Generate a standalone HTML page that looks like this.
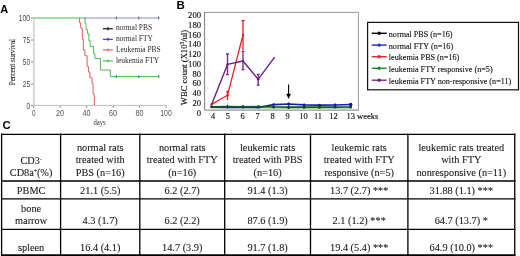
<!DOCTYPE html>
<html><head><meta charset="utf-8">
<style>
html,body{margin:0;padding:0;background:#fff;}
body{width:520px;height:256px;overflow:hidden;}
svg{display:block;will-change:transform;}
.sf{font-family:"Liberation Serif",serif;}
.ss{font-family:"Liberation Sans",sans-serif;}
</style></head><body>
<svg width="520" height="256" viewBox="0 0 520 256">
<!-- Panel labels -->
<g class="ss" font-weight="bold" font-size="11" fill="#000">
<text x="0.3" y="12.8">A</text>
<text x="176.4" y="8.5" font-size="11.5">B</text>
<text x="2.4" y="129.2" font-size="11.3">C</text>
</g>

<!-- ============ Chart A ============ -->
<g fill="none" stroke="#bdbdbd" stroke-width="1">
<line x1="33.9" y1="17.5" x2="33.9" y2="105.6" stroke-width="1.6" stroke="#d0d0d0"/>
<line x1="33.6" y1="105.4" x2="166.5" y2="105.4"/>
<!-- ticks -->
<g stroke="#8a8a8a">
<line x1="31" y1="18" x2="33.2" y2="18"/>
<line x1="31" y1="40" x2="33.2" y2="40"/>
<line x1="31" y1="62" x2="33.2" y2="62"/>
<line x1="31" y1="84" x2="33.2" y2="84"/>
<line x1="31" y1="105.4" x2="33.2" y2="105.4"/>
<line x1="33.7" y1="105.9" x2="33.7" y2="107.9"/>
<line x1="60.2" y1="105.9" x2="60.2" y2="107.9"/>
<line x1="86.7" y1="105.9" x2="86.7" y2="107.9"/>
<line x1="113.2" y1="105.9" x2="113.2" y2="107.9"/>
<line x1="139.7" y1="105.9" x2="139.7" y2="107.9"/>
<line x1="166.2" y1="105.9" x2="166.2" y2="107.9"/>
</g>
</g>
<g class="ss" font-size="8.2" fill="#444" text-anchor="end">
<text x="30" y="20.8" textLength="11.2" lengthAdjust="spacingAndGlyphs">100</text>
<text x="30" y="42.8" textLength="7.2" lengthAdjust="spacingAndGlyphs">75</text>
<text x="30" y="64.8" textLength="7.2" lengthAdjust="spacingAndGlyphs">50</text>
<text x="30" y="86.8" textLength="7.2" lengthAdjust="spacingAndGlyphs">25</text>
<text x="30" y="108.5" textLength="3.5" lengthAdjust="spacingAndGlyphs">0</text>
</g>
<g class="ss" font-size="8.2" fill="#555" text-anchor="middle">
<text x="33.7" y="115.9" textLength="3.6" lengthAdjust="spacingAndGlyphs">0</text>
<text x="60" y="115.9" textLength="8" lengthAdjust="spacingAndGlyphs">20</text>
<text x="86.5" y="115.9" textLength="8" lengthAdjust="spacingAndGlyphs">40</text>
<text x="113" y="115.9" textLength="8" lengthAdjust="spacingAndGlyphs">60</text>
<text x="139.5" y="115.9" textLength="8" lengthAdjust="spacingAndGlyphs">80</text>
<text x="166" y="115.9" textLength="11.4" lengthAdjust="spacingAndGlyphs">100</text>
<text class="sf" x="99.5" y="125.4" font-size="7.8" textLength="12.2" lengthAdjust="spacingAndGlyphs" fill="#333">days</text>
</g>
<text class="sf" transform="translate(15.1,85.3) rotate(-90)" font-size="7.8" textLength="46.4" lengthAdjust="spacingAndGlyphs" fill="#333" stroke="#333" stroke-width="0.15">Percent survival</text>
<!-- curves -->
<g fill="none" stroke-width="1" stroke-linejoin="miter">
<path stroke="#8888cc" d="M84 18H158.8"/>
<path stroke="#e05a5a" d="M78.8 18H79.6V22.9H80.7V28H82.3V39.3H83.3V50H84.9V55.7H87.1V66.3H88.4V72H89.8V77.6H91.2V78H92V83.5H93V94.1H94.25V105.4"/>
<path stroke="#4cbc4c" d="M33.7 18H85.1V23.4H86V29.5H87.6V33.7H88.9V40.7H90.1V46.4H93.6V53.6H94.9V58.4H100.4V70H110.3V76.6H158.8"/>
</g>
<g stroke-width="1">
<path stroke="#4a4ab0" d="M116.3 16.6V19.4M138.8 16.6V19.4M158.7 16.6V19.4"/>
<path stroke="#2a8a2a" d="M116.3 75.2V78M138.8 75.2V78M158.7 75.2V78"/>
</g>
<!-- legend A -->
<g stroke-width="1.1">
<line x1="102.9" y1="28.8" x2="112.9" y2="28.8" stroke="#000"/>
<line x1="107.9" y1="27.3" x2="107.9" y2="30.3" stroke="#000"/>
<line x1="102.9" y1="39.3" x2="112.9" y2="39.3" stroke="#2a2acc"/>
<line x1="107.9" y1="37.8" x2="107.9" y2="40.8" stroke="#2a2acc"/>
<line x1="102.9" y1="49.9" x2="112.9" y2="49.9" stroke="#e05a5a"/>
<line x1="107.9" y1="48.4" x2="107.9" y2="51.4" stroke="#e05a5a"/>
<line x1="102.9" y1="60.9" x2="112.9" y2="60.9" stroke="#4cbc4c"/>
<line x1="107.9" y1="59.4" x2="107.9" y2="62.4" stroke="#4cbc4c"/>
</g>
<g class="sf" font-size="7.45" fill="#2a2a2a">
<text x="115.9" y="30.4">normal PBS</text>
<text x="115.9" y="40.9">normal FTY</text>
<text x="115.9" y="52.2">Leukemia PBS</text>
<text x="115.9" y="62.6">leukemia FTY</text>
</g>

<!-- ============ Chart B ============ -->
<g fill="none" stroke-width="1">
<path stroke="#999" d="M204.6 12.4H358.4V110.1"/>
<path stroke="#7a7a7a" d="M204.6 12V110.1H358.9"/>
</g>
<g class="sf" font-size="8.6" fill="#111" stroke="#111" stroke-width="0.15" text-anchor="end">
<text x="201" y="18.1">200</text>
<text x="201" y="27.9">180</text>
<text x="201" y="37.6">160</text>
<text x="201" y="47.4">140</text>
<text x="201" y="57.1">120</text>
<text x="201" y="66.9">100</text>
<text x="201" y="76.6">80</text>
<text x="201" y="86.4">60</text>
<text x="201" y="96.1">40</text>
<text x="201" y="105.9">20</text>
<text x="201" y="115.9">0</text>
</g>
<g class="sf" font-size="8.4" fill="#111" stroke="#111" stroke-width="0.15" text-anchor="middle">
<text x="213.1" y="119.1">4</text>
<text x="227.9" y="119.1">5</text>
<text x="242.7" y="119.1">6</text>
<text x="257.7" y="119.1">7</text>
<text x="272.7" y="119.1">8</text>
<text x="287.5" y="119.1">9</text>
<text x="303.5" y="119.1">10</text>
<text x="318" y="119.1">11</text>
<text x="333.5" y="119.1">12</text>
</g>
<text class="sf" font-size="8.4" fill="#111" stroke="#111" stroke-width="0.15" x="346.5" y="119.1" textLength="31.8" lengthAdjust="spacingAndGlyphs">13 weeks</text>
<text class="sf" font-size="8.6" fill="#111" stroke="#111" stroke-width="0.15" transform="translate(187.0,105.2) rotate(-90)">WBC count (X10<tspan font-size="5.5" dy="-3">3</tspan><tspan dy="3">/ul)</tspan></text>

<!-- data lines -->
<g fill="none" stroke-linejoin="round">
<path stroke="#9fd29f" stroke-width="1" d="M211.6 107.8L227.5 107.8L243 107.8L258.2 108.0L273.6 108.3L288.7 108.4L304.2 108.4L319.5 108.4L335 108.3L350.7 108.3"/>
<path stroke="#1522b0" stroke-width="1.6" d="M211.6 107.2L227.5 107.4L243 107.3L258.2 107.6L273.6 104.6L288.7 104.0L304.2 104.9L319.5 105.1L335 105.0L350.7 104.5"/>
<path stroke="#0e5a2c" stroke-width="1.7" d="M211.6 106.8L227.5 106.7L243 106.8L258.2 106.7L273.6 107.0L288.7 107.2L304.2 107.2L319.5 107.2L335 107.1L350.7 107.0"/>
<path stroke="#e8222a" stroke-width="1.3" d="M211.6 104.4L227.5 95.3L243 35"/>
<path stroke="#702084" stroke-width="1.4" d="M211.6 104.4L227.5 64.4L243 61L258.2 79.3L274.6 57.1"/>
</g>
<!-- error bars -->
<g fill="none" stroke-width="1">
<path stroke="#e0202a" stroke-width="1.3" d="M243 20.6V50.3M241.4 20.6H244.6M227.5 91.5V100M226.1 91.5H228.9"/>
<path stroke="#702084" stroke-width="1.3" d="M227.5 54V74.7M226.1 54H228.9M226.1 74.7H228.9M243 51.3V69.6M241.6 51.3H244.4M241.6 69.6H244.4M258.2 74.4V85.1M256.8 74.4H259.6M256.8 85.1H259.6"/>
<path stroke="#1522b0" d="M288.7 102.8V109"/>
<path stroke="#0e5a3c" d="M227.5 104.6V108.4M243 105V108.4"/>
</g>
<g>
<circle cx="211.6" cy="106.8" r="1.5" fill="#0a4a22"/>
<circle cx="227.5" cy="106.7" r="1.5" fill="#0a4a22"/>
<circle cx="243" cy="106.8" r="1.5" fill="#0a4a22"/>
<circle cx="258.2" cy="106.7" r="1.5" fill="#0a4a22"/>
<circle cx="273.6" cy="107.0" r="1.5" fill="#0a4a22"/>
<circle cx="288.7" cy="107.2" r="1.5" fill="#0a4a22"/>
<circle cx="304.2" cy="107.2" r="1.5" fill="#0a4a22"/>
<circle cx="319.5" cy="107.2" r="1.5" fill="#0a4a22"/>
<circle cx="335" cy="107.1" r="1.5" fill="#0a4a22"/>
<circle cx="350.7" cy="107.0" r="1.5" fill="#0a4a22"/>
<circle cx="273.6" cy="104.6" r="1.4" fill="#1020a8"/>
<circle cx="288.7" cy="104.0" r="1.4" fill="#1020a8"/>
<circle cx="304.2" cy="104.9" r="1.4" fill="#1020a8"/>
<circle cx="319.5" cy="105.1" r="1.4" fill="#1020a8"/>
<circle cx="335" cy="105.0" r="1.4" fill="#1020a8"/>
<circle cx="350.7" cy="104.5" r="1.4" fill="#1020a8"/>
<circle cx="350.7" cy="104.5" r="1.7" fill="#101c98"/>
<circle cx="243" cy="35" r="1.2" fill="#e8222a"/>
<circle cx="227.5" cy="95.3" r="1.2" fill="#e8222a"/>
<circle cx="211.6" cy="104.4" r="1.2" fill="#c0202a"/>
<circle cx="227.5" cy="64.4" r="1.2" fill="#702084"/>
<circle cx="243" cy="61" r="1.2" fill="#702084"/>
<circle cx="258.2" cy="79.3" r="1.2" fill="#702084"/>
</g>
<!-- arrow -->
<g>
<line x1="288.6" y1="84.6" x2="288.6" y2="95" stroke="#000" stroke-width="1.1"/>
<path d="M286.3 93.8L290.9 93.8L288.6 99Z" fill="#000"/>
</g>

<!-- legend B -->
<rect x="367.6" y="22.4" width="150.9" height="67.4" fill="none" stroke="#111" stroke-width="1.2"/>
<g stroke-width="1.4">
<line x1="371.7" y1="33.3" x2="386.7" y2="33.3" stroke="#000"/>
<circle cx="379.2" cy="33.3" r="1.7" fill="#000"/>
<line x1="371.7" y1="45.1" x2="386.7" y2="45.1" stroke="#1f2fd6"/>
<circle cx="379.2" cy="45.1" r="1.7" fill="#1f2fd6"/>
<line x1="371.7" y1="56.7" x2="386.7" y2="56.7" stroke="#e8222a"/>
<circle cx="379.2" cy="56.7" r="1.7" fill="#e8222a"/>
<line x1="371.7" y1="68.3" x2="386.7" y2="68.3" stroke="#1a8a2a"/>
<circle cx="379.2" cy="68.3" r="1.7" fill="#1a8a2a"/>
<line x1="371.7" y1="80.2" x2="386.7" y2="80.2" stroke="#7a2a86"/>
<circle cx="379.2" cy="80.2" r="1.7" fill="#702084"/>
</g>
<g class="sf" font-size="8.15" fill="#111" stroke="#111" stroke-width="0.12">
<text x="388.8" y="36.9">normal PBS (n=16)</text>
<text x="388.8" y="48.6">normal FTY (n=16)</text>
<text x="388.8" y="60.3">leukemia PBS (n=16)</text>
<text x="388.8" y="71.9">leukemia FTY responsive (n=5)</text>
<text x="388.8" y="83.8">leukemia FTY non-responsive (n=11)</text>
</g>

<!-- ============ Table C ============ -->
<g stroke="#000" stroke-width="1.3" fill="none">
<path d="M1 134.3H515.4M1 181H515.4M1 198.9H515.4M1 229.4H515.4"/>
<path stroke-width="1.9" d="M1 255.1H515.4"/>
<path d="M1.6 133.6V256M60.6 133.6V256M139.8 133.6V256M224.7 133.6V256M310.5 133.6V256M407.9 133.6V256M514.75 133.6V256"/>
</g>
<g class="sf" font-size="10.3" fill="#1a1a1a" stroke="#1a1a1a" stroke-width="0.1" text-anchor="middle">
<text x="31.1" y="164">CD3<tspan font-size="5.5" dy="-2.6">-</tspan></text>
<text x="31.1" y="175.6">CD8a<tspan font-size="5.5" dy="-2.6">+</tspan><tspan dy="2.6">(%)</tspan></text>

<text x="100.2" y="150.9">normal rats</text>
<text x="100.2" y="163.3">treated with</text>
<text x="100.2" y="175.6">PBS (n=16)</text>

<text x="182.2" y="150.9">normal rats</text>
<text x="182.2" y="163.3">treated with FTY</text>
<text x="182.2" y="175.6">(n=16)</text>

<text x="267.6" y="150.9">leukemic rats</text>
<text x="267.6" y="163.3">treated with PBS</text>
<text x="267.6" y="175.6">(n=16)</text>

<text x="359.2" y="150.9">leukemic rats</text>
<text x="359.2" y="163.3">treated with FTY</text>
<text x="359.2" y="175.6">responsive (n=5)</text>

<text x="461.3" y="150.9">leukemic rats treated</text>
<text x="461.3" y="163.3">with FTY</text>
<text x="461.3" y="175.6">nonresponsive (n=11)</text>

<text x="31.1" y="194">PBMC</text>
<text x="100.2" y="194">21.1 (5.5)</text>
<text x="182.2" y="194">6.2 (2.7)</text>
<text x="267.6" y="194">91.4 (1.3)</text>
<text x="359.2" y="194">13.7 (2.7) ***</text>
<text x="461.3" y="194">31.88 (1.1) ***</text>

<text x="31.1" y="211.6">bone</text>
<text x="31.1" y="224">marrow</text>
<text x="100.2" y="224">4.3 (1.7)</text>
<text x="182.2" y="224">6.2 (2.2)</text>
<text x="267.6" y="224">87.6 (1.9)</text>
<text x="359.2" y="224">2.1 (1.2) ***</text>
<text x="461.3" y="224">64.7 (13.7) *</text>

<text x="31.1" y="250.6">spleen</text>
<text x="100.2" y="250.6">16.4 (4.1)</text>
<text x="182.2" y="250.6">14.7 (3.9)</text>
<text x="267.6" y="250.6">91.7 (1.8)</text>
<text x="359.2" y="250.6">19.4 (5.4) ***</text>
<text x="461.3" y="250.6">64.9 (10.0) ***</text>
</g>
</svg>
</body></html>
